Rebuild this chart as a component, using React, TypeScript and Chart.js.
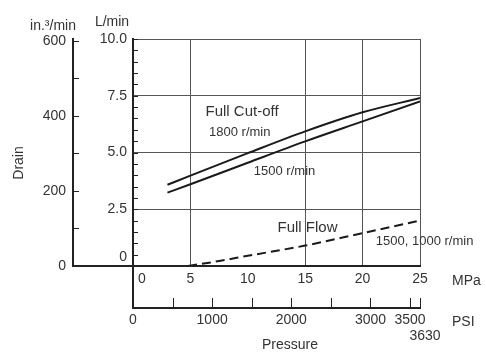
import React, { useEffect, useRef } from "react";
import { Chart, registerables } from "chart.js";

Chart.register(...registerables);

// ---- data ----
const cutoffPressure = [3, 5, 10, 15, 20, 25]; // MPa
const cutoff1800 = [3.58, 3.98, 4.97, 5.93, 6.77, 7.4]; // L/min
const cutoff1500 = [3.23, 3.6, 4.55, 5.49, 6.37, 7.25]; // L/min
const flowPressure = [4.8, 7.5, 10, 15, 20, 25]; // MPa
const fullFlow = [0, 0.22, 0.45, 0.9, 1.45, 2.0]; // L/min

const lpmTicks = [0, 2.5, 5, 7.5, 10];
const inTicks = [0, 200, 400, 600];
const mpaTicks = [0, 5, 10, 15, 20, 25];
const psiTicks = [0, 1000, 2000, 3000, 3500];
const psiMinor = [500, 1000, 1500, 2000, 2500, 3000, 3500];
const mpaGrid = [5, 15, 20, 25];
const lpmMax = 10;
const inMax = 605;
const mpaMax = 25;
const psiMax = 3626; // = 25 MPa
const psiEndLabel = "3630";

// annotation texts, anchored in data units (MPa, L/min)
const notes = [
  { text: "Full Cut-off", x: 9.5, y: 6.78, size: 15 },
  { text: "1800 r/min", x: 9.3, y: 5.9, size: 13 },
  { text: "1500 r/min", x: 13.2, y: 4.17, size: 13 },
  { text: "Full Flow", x: 15.2, y: 1.67, size: 15 },
  { text: "1500, 1000 r/min", x: 25.4, y: 1.1, size: 13 },
];

const FONT = "'Liberation Sans', Arial, Helvetica, sans-serif";
const TEXT = "#333";
const AXIS = "#222";
const GRID = "#555";
const LINE = "#1a1a1a";

const toPoints = (xs: number[], ys: number[]) => xs.map((x, i) => ({ x, y: ys[i] }));

const overlay = {
  id: "overlay",
  afterDraw(chart: any) {
    const ctx = chart.ctx as CanvasRenderingContext2D;
    const x = chart.scales.x;
    const x2 = chart.scales.x2;
    const y = chart.scales.y;
    const y2 = chart.scales.y2;
    const seg = (a: number, b: number, c: number, d: number) => {
      ctx.beginPath();
      ctx.moveTo(a, b);
      ctx.lineTo(c, d);
      ctx.stroke();
    };
    ctx.save();
    ctx.strokeStyle = AXIS;
    ctx.lineWidth = 2;
    // L/min axis continues down to PSI axis
    seg(y.right, x.top, y.right, x2.top);
    // baseline continues left to the in3/min axis
    seg(y2.right, x.top, y.right, x.top);

    ctx.lineWidth = 1;
    // minor ticks L/min (inside)
    for (let v = 0; v <= lpmMax + 1e-9; v += 0.5) {
      const py = Math.round(y.getPixelForValue(v)) + 0.5;
      seg(y.right, py, y.right + 5, py);
    }
    // minor ticks in3/min
    for (let v = 0; v <= 600; v += 100) {
      const py = Math.round(y2.getPixelForValue(v)) + 0.5;
      seg(y2.right, py, y2.right + 6, py);
    }
    // PSI ticks pointing up
    [...psiMinor, psiMax].forEach((v) => {
      const px = Math.round(x2.getPixelForValue(v)) + 0.5;
      seg(px, x2.top, px, x2.top - 10);
    });

    ctx.fillStyle = TEXT;
    ctx.font = `14px ${FONT}`;
    ctx.textBaseline = "middle";
    // "0" labels that sit off their tick in the reference
    ctx.textAlign = "center";
    ctx.fillText("0", x.getPixelForValue(0) + 9, x.top + 5 + 8.4);
    ctx.textAlign = "right";
    ctx.fillText("0", y.right - 6, y.getPixelForValue(0) - 9);
    // 3630 under the PSI end
    ctx.textAlign = "center";
    ctx.fillText(psiEndLabel, x2.getPixelForValue(psiMax) + 5, x2.top + 28);

    // axis names
    ctx.textAlign = "left";
    ctx.textBaseline = "alphabetic";
    ctx.fillText("MPa", 452, x.top + 19);
    ctx.fillText("PSI", 452, x2.top + 18);
    ctx.textAlign = "center";
    ctx.fillText("Pressure", 290, 349);
    ctx.fillText("in.\u00b3/min", 53, 30);
    ctx.fillText("L/min", 112, 26);
    ctx.save();
    ctx.translate(19, 163);
    ctx.rotate(-Math.PI / 2);
    ctx.textBaseline = "middle";
    ctx.fillText("Drain", 0, 0);
    ctx.restore();

    // curve annotations
    ctx.textBaseline = "middle";
    ctx.textAlign = "center";
    notes.forEach((n) => {
      ctx.font = `${n.size}px ${FONT}`;
      ctx.fillText(n.text, x.getPixelForValue(n.x), y.getPixelForValue(n.y));
    });
    ctx.restore();
  },
};

export default function App() {
  const ref = useRef<HTMLCanvasElement | null>(null);
  useEffect(() => {
    if (!ref.current) return;
    const tickFont = { family: FONT, size: 14 };
    const chart = new Chart(ref.current, {
      type: "line",
      data: {
        datasets: [
          {
            label: "Full Cut-off 1800 r/min",
            data: toPoints(cutoffPressure, cutoff1800),
            borderColor: LINE,
            borderWidth: 2,
            pointRadius: 0,
            cubicInterpolationMode: "monotone",
            xAxisID: "x",
            yAxisID: "y",
          },
          {
            label: "Full Cut-off 1500 r/min",
            data: toPoints(cutoffPressure, cutoff1500),
            borderColor: LINE,
            borderWidth: 2,
            pointRadius: 0,
            cubicInterpolationMode: "monotone",
            xAxisID: "x",
            yAxisID: "y",
          },
          {
            label: "Full Flow 1500, 1000 r/min",
            data: toPoints(flowPressure, fullFlow),
            borderColor: LINE,
            borderWidth: 2,
            borderDash: [9, 5],
            pointRadius: 0,
            cubicInterpolationMode: "monotone",
            xAxisID: "x",
            yAxisID: "y",
          },
        ],
      },
      options: {
        animation: false,
        responsive: false,
        devicePixelRatio: 1,
        layout: { padding: { left: 0, top: 39, right: 66, bottom: 0 } },
        plugins: { legend: { display: false }, tooltip: { enabled: false } },
        scales: {
          x: {
            type: "linear",
            position: "bottom",
            weight: 0,
            min: 0,
            max: mpaMax,
            afterBuildTicks: (s: any) => {
              s.ticks = mpaTicks.map((v) => ({ value: v }));
            },
            afterFit: (s: any) => {
              s.height = 42;
            },
            ticks: {
              color: TEXT,
              font: tickFont,
              padding: 5,
              maxRotation: 0,
              autoSkip: false,
              callback: (v: any) => (v === 0 ? "" : String(v)),
            },
            grid: {
              drawTicks: false,
              lineWidth: 1,
              color: (c: any) => (c.tick && mpaGrid.includes(c.tick.value) ? GRID : "rgba(0,0,0,0)"),
            },
            border: { display: true, color: AXIS, width: 2 },
          },
          x2: {
            type: "linear",
            position: "bottom",
            weight: 1,
            min: 0,
            max: psiMax,
            afterBuildTicks: (s: any) => {
              s.ticks = psiTicks.map((v) => ({ value: v }));
            },
            afterFit: (s: any) => {
              s.height = 46;
            },
            ticks: {
              color: TEXT,
              font: tickFont,
              padding: 4,
              maxRotation: 0,
              autoSkip: false,
              callback: (v: any) => String(v),
            },
            grid: { drawOnChartArea: false, drawTicks: false },
            border: { display: true, color: AXIS, width: 2 },
          },
          y: {
            type: "linear",
            position: "left",
            weight: 0,
            min: 0,
            max: lpmMax,
            afterBuildTicks: (s: any) => {
              s.ticks = lpmTicks.map((v) => ({ value: v }));
            },
            afterFit: (s: any) => {
              s.width = 60;
            },
            ticks: {
              color: TEXT,
              font: tickFont,
              padding: 6,
              autoSkip: false,
              callback: (v: any) => (v === 0 ? "" : Number(v).toFixed(1)),
            },
            grid: {
              drawTicks: false,
              lineWidth: 1,
              color: (c: any) => (c.tick && c.tick.value > 0 ? GRID : "rgba(0,0,0,0)"),
            },
            border: { display: true, color: AXIS, width: 2 },
          },
          y2: {
            type: "linear",
            position: "left",
            weight: 1,
            min: 0,
            max: inMax,
            afterBuildTicks: (s: any) => {
              s.ticks = inTicks.map((v) => ({ value: v }));
            },
            afterFit: (s: any) => {
              s.width = 73;
            },
            ticks: {
              color: TEXT,
              font: tickFont,
              padding: 7,
              autoSkip: false,
              callback: (v: any) => String(v),
            },
            grid: { drawOnChartArea: false, drawTicks: false },
            border: { display: true, color: AXIS, width: 2 },
          },
        },
      },
      plugins: [overlay],
    } as any);
    return () => chart.destroy();
  }, []);

  return (
    <div style={{ position: "absolute", left: 0, top: 0, width: 486, height: 354, background: "#fff" }}>
      <canvas ref={ref} width={486} height={354} style={{ display: "block", width: 486, height: 354 }} />
    </div>
  );
}
